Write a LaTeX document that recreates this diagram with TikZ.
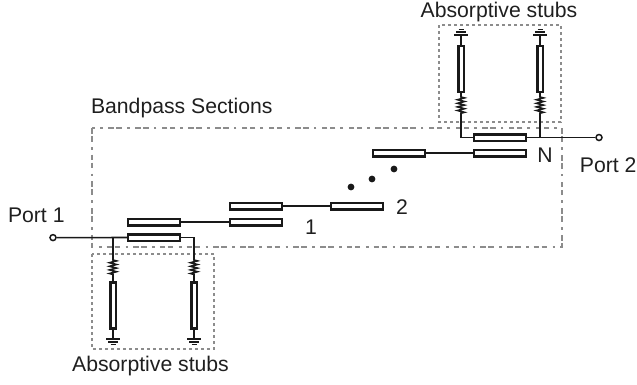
\documentclass[tikz,border=0pt]{standalone}
\usepackage{fontspec}
\setmainfont{Liberation Sans}
\usetikzlibrary{decorations.pathmorphing,calc}
\tikzset{
  x=1bp,y=-1bp,
  lbl/.style={inner sep=0pt,outer sep=0pt,font=\fontsize{21.2bp}{24bp}\selectfont,text=black!88},
  tline/.style={draw=black!90,fill=white,line width=2.5bp,rectangle,inner sep=0pt,outer sep=0pt,minimum width=51.6bp,minimum height=6.5bp},
  vline/.style={draw=black!90,fill=white,line width=2.5bp,rectangle,inner sep=0pt,outer sep=0pt,minimum width=5.5bp,minimum height=46bp},
  wire/.style={draw=black!90,line width=1.6bp},
  resistor/.style={wire,decorate,decoration={zigzag,segment length=3.6bp,amplitude=3.4bp,pre length=1bp,post length=1bp}},
  portc/.style={circle,draw=black!90,fill=white,line width=1.5bp,inner sep=0pt,minimum size=6bp},
  stubbox/.style={draw=black!45,line width=2.2bp,dash pattern=on 3bp off 3bp},
  secbox/.style={draw=black!45,line width=2.2bp,dash pattern=on 5.5bp off 2.5bp on 5.5bp off 5.5bp on 2.7bp off 5bp},
  dotn/.style={circle,fill=black!90,inner sep=0pt,minimum size=6.8bp},
  gnd/.style={wire}
}
\newcommand{\gndbars}[3]{% x, y of first bar, direction
  \draw[gnd,line width=1.7bp] (#1-7,#2) -- (#1+7,#2);
  \draw[gnd,line width=1.4bp] (#1-5,#2+#3*3) -- (#1+5,#2+#3*3);
  \draw[gnd,line width=1.4bp] (#1-2.5,#2+#3*5.5) -- (#1+2.5,#2+#3*5.5);
}
\begin{document}
\begin{tikzpicture}
\useasboundingbox (0,0) rectangle (637,384);
% dashed boxes
\draw[secbox] (92,128) rectangle (562,247);
\draw[stubbox] (92,254) rectangle (214,349);
\draw[stubbox] (439,25) rectangle (561,122);
% ports
\node[portc] (p1) at (53,237.6) {};
\node[portc] (p2) at (599,137.5) {};
% transmission lines
\node[tline] (a1) at (154,222) {};
\node[tline] (a2) at (154,237.5) {};
\node[tline] (b1) at (256,206) {};
\node[tline] (b2) at (256,222) {};
\node[tline] (c1) at (357,206) {};
\node[tline] (d1) at (399,153) {};
\node[tline] (e1) at (500,137.5) {};
\node[tline] (e2) at (500,153) {};
% connectors
\draw[wire] (p1) -- (a2);
\draw[wire] (a1) -- (b2);
\draw[wire] (b1) -- (c1);
\draw[wire] (d1) -- (e2);
\draw[wire] (e1) -- (p2);
% lower stubs
\node[vline] (s1) at (113,305.5) {};
\node[vline] (s2) at (194,305.5) {};
\coordinate (r1t) at (113,259);
\coordinate (r1b) at (113,277);
\coordinate (r2t) at (194,259);
\coordinate (r2b) at (194,277);
\coordinate (j1) at (113,237.5);
\coordinate (g1) at (113,339);
\coordinate (g2) at (194,339);
\draw[wire] (j1) -- (r1t);
\draw[wire] (a2.east) -| (r2t);
\draw[resistor] (r1t) -- (r1b);
\draw[resistor] (r2t) -- (r2b);
\draw[wire] (r1b) -- (s1.north);
\draw[wire] (r2b) -- (s2.north);
\draw[wire] (s1.south) -- (g1);
\draw[wire] (s2.south) -- (g2);
\gndbars{113}{339}{1}
\gndbars{194}{339}{1}
% upper stubs
\node[vline] (t1) at (461,69) {};
\node[vline] (t2) at (540,69) {};
\coordinate (q1t) at (461,96);
\coordinate (q1b) at (461,115);
\coordinate (q2t) at (540,96);
\coordinate (q2b) at (540,115);
\coordinate (j2) at (540,137.5);
\coordinate (h1) at (461,35);
\coordinate (h2) at (540,35);
\draw[wire] (t1.south) -- (q1t);
\draw[wire] (t2.south) -- (q2t);
\draw[resistor] (q1t) -- (q1b);
\draw[resistor] (q2t) -- (q2b);
\draw[wire] (q1b) |- (e1.west);
\draw[wire] (q2b) -- (j2);
\draw[wire] (t1.north) -- (h1);
\draw[wire] (t2.north) -- (h2);
\gndbars{461}{35}{-1}
\gndbars{540}{35}{-1}
% dots
\node[dotn] (n1) at (351,187) {};
\node[dotn] (n2) at (372,179) {};
\node[dotn] (n3) at (394,169) {};
% labels
\node[lbl,anchor=center] (l1) at (150.5,366) {Absorptive stubs};
\node[lbl,anchor=center] (l2) at (499,12) {Absorptive stubs};
\node[lbl,anchor=west] (l3) at (91,108) {Bandpass Sections};
\node[lbl,anchor=west] (l4) at (8,215) {Port 1};
\node[lbl,anchor=east] (l5) at (636.5,165) {Port 2};
\node[lbl,anchor=center] (l6) at (311,227) {1};
\node[lbl,anchor=center] (l7) at (402,207) {2};
\node[lbl,anchor=center] (l8) at (545,155) {N};
\end{tikzpicture}
\end{document}
